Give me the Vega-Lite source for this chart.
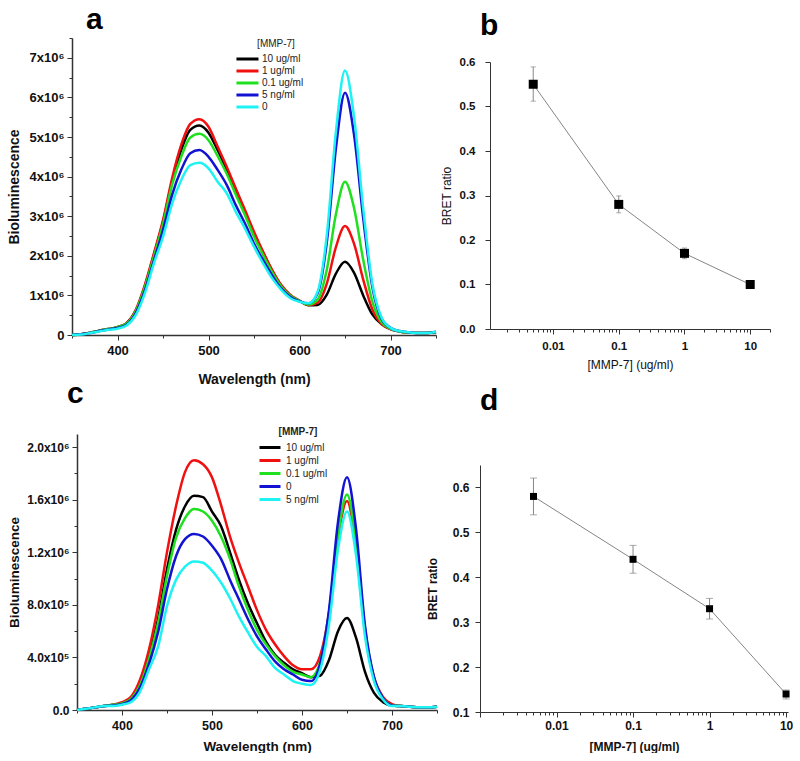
{
"$schema":"https://vega.github.io/schema/vega-lite/v6.json",
"padding":{"left":7,"top":5,"right":0,"bottom":0},
"background":"white",
"config":{"view":{"stroke":null},"font":"Liberation Sans",
 "axis":{"domainColor":"#333","tickColor":"#333","labelColor":"#111","titleColor":"#111","grid":false,"labelFontWeight":"bold","titleFontWeight":"bold","labelOverlap":false},
 "title":{"fontSize":30,"fontWeight":"bold","anchor":"start","frame":"group","color":"#000"}},
"datasets":{
"specA":[
{"s":"10 ug/ml","w":350,"v":0},{"s":"10 ug/ml","w":360,"v":20000},{"s":"10 ug/ml","w":370,"v":60000},{"s":"10 ug/ml","w":380,"v":110000},{"s":"10 ug/ml","w":390,"v":150000},{"s":"10 ug/ml","w":400,"v":200000},{"s":"10 ug/ml","w":410,"v":300000},{"s":"10 ug/ml","w":420,"v":610000},{"s":"10 ug/ml","w":430,"v":1220000},{"s":"10 ug/ml","w":440,"v":2020000},{"s":"10 ug/ml","w":450,"v":2850000},{"s":"10 ug/ml","w":460,"v":3870000},{"s":"10 ug/ml","w":470,"v":4670000},{"s":"10 ug/ml","w":480,"v":5180000},{"s":"10 ug/ml","w":490,"v":5290000},{"s":"10 ug/ml","w":500,"v":5110000},{"s":"10 ug/ml","w":510,"v":4670000},{"s":"10 ug/ml","w":520,"v":4180000},{"s":"10 ug/ml","w":530,"v":3660000},{"s":"10 ug/ml","w":540,"v":3110000},{"s":"10 ug/ml","w":550,"v":2570000},{"s":"10 ug/ml","w":560,"v":2080000},{"s":"10 ug/ml","w":570,"v":1620000},{"s":"10 ug/ml","w":580,"v":1240000},{"s":"10 ug/ml","w":590,"v":1000000},{"s":"10 ug/ml","w":600,"v":860000},{"s":"10 ug/ml","w":610,"v":750000},{"s":"10 ug/ml","w":620,"v":760000},{"s":"10 ug/ml","w":630,"v":1020000},{"s":"10 ug/ml","w":640,"v":1550000},{"s":"10 ug/ml","w":650,"v":1850000},{"s":"10 ug/ml","w":660,"v":1570000},{"s":"10 ug/ml","w":670,"v":1000000},{"s":"10 ug/ml","w":680,"v":520000},{"s":"10 ug/ml","w":690,"v":280000},{"s":"10 ug/ml","w":700,"v":150000},{"s":"10 ug/ml","w":710,"v":90000},{"s":"10 ug/ml","w":720,"v":60000},{"s":"10 ug/ml","w":730,"v":50000},{"s":"10 ug/ml","w":740,"v":50000},{"s":"10 ug/ml","w":750,"v":70000},
{"s":"1 ug/ml","w":350,"v":0},{"s":"1 ug/ml","w":360,"v":20000},{"s":"1 ug/ml","w":370,"v":60000},{"s":"1 ug/ml","w":380,"v":110000},{"s":"1 ug/ml","w":390,"v":150000},{"s":"1 ug/ml","w":400,"v":200000},{"s":"1 ug/ml","w":410,"v":300000},{"s":"1 ug/ml","w":420,"v":630000},{"s":"1 ug/ml","w":430,"v":1260000},{"s":"1 ug/ml","w":440,"v":2060000},{"s":"1 ug/ml","w":450,"v":2900000},{"s":"1 ug/ml","w":460,"v":3960000},{"s":"1 ug/ml","w":470,"v":4800000},{"s":"1 ug/ml","w":480,"v":5330000},{"s":"1 ug/ml","w":490,"v":5450000},{"s":"1 ug/ml","w":500,"v":5260000},{"s":"1 ug/ml","w":510,"v":4760000},{"s":"1 ug/ml","w":520,"v":4250000},{"s":"1 ug/ml","w":530,"v":3700000},{"s":"1 ug/ml","w":540,"v":3160000},{"s":"1 ug/ml","w":550,"v":2610000},{"s":"1 ug/ml","w":560,"v":2100000},{"s":"1 ug/ml","w":570,"v":1640000},{"s":"1 ug/ml","w":580,"v":1260000},{"s":"1 ug/ml","w":590,"v":1010000},{"s":"1 ug/ml","w":600,"v":870000},{"s":"1 ug/ml","w":610,"v":760000},{"s":"1 ug/ml","w":620,"v":820000},{"s":"1 ug/ml","w":630,"v":1300000},{"s":"1 ug/ml","w":640,"v":2220000},{"s":"1 ug/ml","w":650,"v":2750000},{"s":"1 ug/ml","w":660,"v":2300000},{"s":"1 ug/ml","w":670,"v":1400000},{"s":"1 ug/ml","w":680,"v":650000},{"s":"1 ug/ml","w":690,"v":280000},{"s":"1 ug/ml","w":700,"v":150000},{"s":"1 ug/ml","w":710,"v":90000},{"s":"1 ug/ml","w":720,"v":60000},{"s":"1 ug/ml","w":730,"v":50000},{"s":"1 ug/ml","w":740,"v":50000},{"s":"1 ug/ml","w":750,"v":70000},
{"s":"0.1 ug/ml","w":350,"v":0},{"s":"0.1 ug/ml","w":360,"v":20000},{"s":"0.1 ug/ml","w":370,"v":60000},{"s":"0.1 ug/ml","w":380,"v":110000},{"s":"0.1 ug/ml","w":390,"v":150000},{"s":"0.1 ug/ml","w":400,"v":200000},{"s":"0.1 ug/ml","w":410,"v":290000},{"s":"0.1 ug/ml","w":420,"v":600000},{"s":"0.1 ug/ml","w":430,"v":1200000},{"s":"0.1 ug/ml","w":440,"v":1980000},{"s":"0.1 ug/ml","w":450,"v":2800000},{"s":"0.1 ug/ml","w":460,"v":3790000},{"s":"0.1 ug/ml","w":470,"v":4500000},{"s":"0.1 ug/ml","w":480,"v":4990000},{"s":"0.1 ug/ml","w":490,"v":5080000},{"s":"0.1 ug/ml","w":500,"v":4920000},{"s":"0.1 ug/ml","w":510,"v":4520000},{"s":"0.1 ug/ml","w":520,"v":4070000},{"s":"0.1 ug/ml","w":530,"v":3540000},{"s":"0.1 ug/ml","w":540,"v":3030000},{"s":"0.1 ug/ml","w":550,"v":2480000},{"s":"0.1 ug/ml","w":560,"v":2020000},{"s":"0.1 ug/ml","w":570,"v":1580000},{"s":"0.1 ug/ml","w":580,"v":1220000},{"s":"0.1 ug/ml","w":590,"v":990000},{"s":"0.1 ug/ml","w":600,"v":860000},{"s":"0.1 ug/ml","w":610,"v":770000},{"s":"0.1 ug/ml","w":620,"v":900000},{"s":"0.1 ug/ml","w":630,"v":1650000},{"s":"0.1 ug/ml","w":640,"v":3050000},{"s":"0.1 ug/ml","w":650,"v":3870000},{"s":"0.1 ug/ml","w":660,"v":3200000},{"s":"0.1 ug/ml","w":670,"v":1900000},{"s":"0.1 ug/ml","w":680,"v":850000},{"s":"0.1 ug/ml","w":690,"v":330000},{"s":"0.1 ug/ml","w":700,"v":160000},{"s":"0.1 ug/ml","w":710,"v":90000},{"s":"0.1 ug/ml","w":720,"v":60000},{"s":"0.1 ug/ml","w":730,"v":50000},{"s":"0.1 ug/ml","w":740,"v":50000},{"s":"0.1 ug/ml","w":750,"v":70000},
{"s":"5 ng/ml","w":350,"v":0},{"s":"5 ng/ml","w":360,"v":20000},{"s":"5 ng/ml","w":370,"v":50000},{"s":"5 ng/ml","w":380,"v":100000},{"s":"5 ng/ml","w":390,"v":140000},{"s":"5 ng/ml","w":400,"v":180000},{"s":"5 ng/ml","w":410,"v":260000},{"s":"5 ng/ml","w":420,"v":550000},{"s":"5 ng/ml","w":430,"v":1120000},{"s":"5 ng/ml","w":440,"v":1880000},{"s":"5 ng/ml","w":450,"v":2650000},{"s":"5 ng/ml","w":460,"v":3540000},{"s":"5 ng/ml","w":470,"v":4170000},{"s":"5 ng/ml","w":480,"v":4590000},{"s":"5 ng/ml","w":490,"v":4670000},{"s":"5 ng/ml","w":500,"v":4500000},{"s":"5 ng/ml","w":510,"v":4170000},{"s":"5 ng/ml","w":520,"v":3790000},{"s":"5 ng/ml","w":530,"v":3280000},{"s":"5 ng/ml","w":540,"v":2820000},{"s":"5 ng/ml","w":550,"v":2310000},{"s":"5 ng/ml","w":560,"v":1890000},{"s":"5 ng/ml","w":570,"v":1500000},{"s":"5 ng/ml","w":580,"v":1170000},{"s":"5 ng/ml","w":590,"v":960000},{"s":"5 ng/ml","w":600,"v":850000},{"s":"5 ng/ml","w":610,"v":800000},{"s":"5 ng/ml","w":620,"v":1060000},{"s":"5 ng/ml","w":630,"v":2340000},{"s":"5 ng/ml","w":640,"v":4710000},{"s":"5 ng/ml","w":650,"v":6120000},{"s":"5 ng/ml","w":660,"v":5050000},{"s":"5 ng/ml","w":670,"v":2950000},{"s":"5 ng/ml","w":680,"v":1220000},{"s":"5 ng/ml","w":690,"v":420000},{"s":"5 ng/ml","w":700,"v":180000},{"s":"5 ng/ml","w":710,"v":100000},{"s":"5 ng/ml","w":720,"v":70000},{"s":"5 ng/ml","w":730,"v":50000},{"s":"5 ng/ml","w":740,"v":50000},{"s":"5 ng/ml","w":750,"v":80000},
{"s":"0","w":350,"v":0},{"s":"0","w":360,"v":10000},{"s":"0","w":370,"v":50000},{"s":"0","w":380,"v":90000},{"s":"0","w":390,"v":130000},{"s":"0","w":400,"v":160000},{"s":"0","w":410,"v":240000},{"s":"0","w":420,"v":500000},{"s":"0","w":430,"v":1050000},{"s":"0","w":440,"v":1810000},{"s":"0","w":450,"v":2480000},{"s":"0","w":460,"v":3320000},{"s":"0","w":470,"v":3910000},{"s":"0","w":480,"v":4290000},{"s":"0","w":490,"v":4350000},{"s":"0","w":500,"v":4210000},{"s":"0","w":510,"v":3870000},{"s":"0","w":520,"v":3580000},{"s":"0","w":530,"v":3110000},{"s":"0","w":540,"v":2690000},{"s":"0","w":550,"v":2230000},{"s":"0","w":560,"v":1810000},{"s":"0","w":570,"v":1430000},{"s":"0","w":580,"v":1140000},{"s":"0","w":590,"v":930000},{"s":"0","w":600,"v":840000},{"s":"0","w":610,"v":800000},{"s":"0","w":620,"v":1100000},{"s":"0","w":630,"v":2520000},{"s":"0","w":640,"v":5130000},{"s":"0","w":650,"v":6680000},{"s":"0","w":660,"v":5500000},{"s":"0","w":670,"v":3200000},{"s":"0","w":680,"v":1300000},{"s":"0","w":690,"v":450000},{"s":"0","w":700,"v":180000},{"s":"0","w":710,"v":100000},{"s":"0","w":720,"v":70000},{"s":"0","w":730,"v":50000},{"s":"0","w":740,"v":50000},{"s":"0","w":750,"v":80000}
],
"specC":[
{"s":"10 ug/ml","w":350,"v":0},{"s":"10 ug/ml","w":360,"v":10000},{"s":"10 ug/ml","w":370,"v":20000},{"s":"10 ug/ml","w":380,"v":30000},{"s":"10 ug/ml","w":390,"v":40000},{"s":"10 ug/ml","w":400,"v":50000},{"s":"10 ug/ml","w":410,"v":90000},{"s":"10 ug/ml","w":420,"v":200000},{"s":"10 ug/ml","w":430,"v":410000},{"s":"10 ug/ml","w":440,"v":690000},{"s":"10 ug/ml","w":450,"v":1070000},{"s":"10 ug/ml","w":460,"v":1370000},{"s":"10 ug/ml","w":470,"v":1550000},{"s":"10 ug/ml","w":480,"v":1630000},{"s":"10 ug/ml","w":490,"v":1620000},{"s":"10 ug/ml","w":500,"v":1510000},{"s":"10 ug/ml","w":510,"v":1400000},{"s":"10 ug/ml","w":520,"v":1200000},{"s":"10 ug/ml","w":530,"v":990000},{"s":"10 ug/ml","w":540,"v":810000},{"s":"10 ug/ml","w":550,"v":660000},{"s":"10 ug/ml","w":560,"v":520000},{"s":"10 ug/ml","w":570,"v":420000},{"s":"10 ug/ml","w":580,"v":360000},{"s":"10 ug/ml","w":590,"v":310000},{"s":"10 ug/ml","w":600,"v":280000},{"s":"10 ug/ml","w":610,"v":250000},{"s":"10 ug/ml","w":620,"v":260000},{"s":"10 ug/ml","w":630,"v":380000},{"s":"10 ug/ml","w":640,"v":600000},{"s":"10 ug/ml","w":650,"v":700000},{"s":"10 ug/ml","w":660,"v":550000},{"s":"10 ug/ml","w":670,"v":290000},{"s":"10 ug/ml","w":680,"v":130000},{"s":"10 ug/ml","w":690,"v":60000},{"s":"10 ug/ml","w":700,"v":34000},{"s":"10 ug/ml","w":710,"v":30000},{"s":"10 ug/ml","w":720,"v":25000},{"s":"10 ug/ml","w":730,"v":20000},{"s":"10 ug/ml","w":740,"v":20000},{"s":"10 ug/ml","w":750,"v":25000},
{"s":"1 ug/ml","w":350,"v":0},{"s":"1 ug/ml","w":360,"v":10000},{"s":"1 ug/ml","w":370,"v":20000},{"s":"1 ug/ml","w":380,"v":30000},{"s":"1 ug/ml","w":390,"v":40000},{"s":"1 ug/ml","w":400,"v":60000},{"s":"1 ug/ml","w":410,"v":100000},{"s":"1 ug/ml","w":420,"v":230000},{"s":"1 ug/ml","w":430,"v":460000},{"s":"1 ug/ml","w":440,"v":790000},{"s":"1 ug/ml","w":450,"v":1200000},{"s":"1 ug/ml","w":460,"v":1550000},{"s":"1 ug/ml","w":470,"v":1810000},{"s":"1 ug/ml","w":480,"v":1900000},{"s":"1 ug/ml","w":490,"v":1870000},{"s":"1 ug/ml","w":500,"v":1770000},{"s":"1 ug/ml","w":510,"v":1560000},{"s":"1 ug/ml","w":520,"v":1320000},{"s":"1 ug/ml","w":530,"v":1120000},{"s":"1 ug/ml","w":540,"v":940000},{"s":"1 ug/ml","w":550,"v":760000},{"s":"1 ug/ml","w":560,"v":610000},{"s":"1 ug/ml","w":570,"v":500000},{"s":"1 ug/ml","w":580,"v":410000},{"s":"1 ug/ml","w":590,"v":340000},{"s":"1 ug/ml","w":600,"v":310000},{"s":"1 ug/ml","w":610,"v":310000},{"s":"1 ug/ml","w":620,"v":410000},{"s":"1 ug/ml","w":630,"v":740000},{"s":"1 ug/ml","w":640,"v":1310000},{"s":"1 ug/ml","w":650,"v":1590000},{"s":"1 ug/ml","w":660,"v":1240000},{"s":"1 ug/ml","w":670,"v":600000},{"s":"1 ug/ml","w":680,"v":250000},{"s":"1 ug/ml","w":690,"v":100000},{"s":"1 ug/ml","w":700,"v":45000},{"s":"1 ug/ml","w":710,"v":30000},{"s":"1 ug/ml","w":720,"v":25000},{"s":"1 ug/ml","w":730,"v":20000},{"s":"1 ug/ml","w":740,"v":20000},{"s":"1 ug/ml","w":750,"v":25000},
{"s":"0.1 ug/ml","w":350,"v":0},{"s":"0.1 ug/ml","w":360,"v":10000},{"s":"0.1 ug/ml","w":370,"v":20000},{"s":"0.1 ug/ml","w":380,"v":30000},{"s":"0.1 ug/ml","w":390,"v":40000},{"s":"0.1 ug/ml","w":400,"v":50000},{"s":"0.1 ug/ml","w":410,"v":85000},{"s":"0.1 ug/ml","w":420,"v":190000},{"s":"0.1 ug/ml","w":430,"v":390000},{"s":"0.1 ug/ml","w":440,"v":660000},{"s":"0.1 ug/ml","w":450,"v":1020000},{"s":"0.1 ug/ml","w":460,"v":1310000},{"s":"0.1 ug/ml","w":470,"v":1460000},{"s":"0.1 ug/ml","w":480,"v":1530000},{"s":"0.1 ug/ml","w":490,"v":1510000},{"s":"0.1 ug/ml","w":500,"v":1440000},{"s":"0.1 ug/ml","w":510,"v":1320000},{"s":"0.1 ug/ml","w":520,"v":1150000},{"s":"0.1 ug/ml","w":530,"v":940000},{"s":"0.1 ug/ml","w":540,"v":760000},{"s":"0.1 ug/ml","w":550,"v":610000},{"s":"0.1 ug/ml","w":560,"v":500000},{"s":"0.1 ug/ml","w":570,"v":410000},{"s":"0.1 ug/ml","w":580,"v":340000},{"s":"0.1 ug/ml","w":590,"v":290000},{"s":"0.1 ug/ml","w":600,"v":270000},{"s":"0.1 ug/ml","w":610,"v":250000},{"s":"0.1 ug/ml","w":620,"v":360000},{"s":"0.1 ug/ml","w":630,"v":730000},{"s":"0.1 ug/ml","w":640,"v":1330000},{"s":"0.1 ug/ml","w":650,"v":1640000},{"s":"0.1 ug/ml","w":660,"v":1280000},{"s":"0.1 ug/ml","w":670,"v":620000},{"s":"0.1 ug/ml","w":680,"v":240000},{"s":"0.1 ug/ml","w":690,"v":90000},{"s":"0.1 ug/ml","w":700,"v":35000},{"s":"0.1 ug/ml","w":710,"v":30000},{"s":"0.1 ug/ml","w":720,"v":25000},{"s":"0.1 ug/ml","w":730,"v":20000},{"s":"0.1 ug/ml","w":740,"v":20000},{"s":"0.1 ug/ml","w":750,"v":25000},
{"s":"0","w":350,"v":0},{"s":"0","w":360,"v":10000},{"s":"0","w":370,"v":20000},{"s":"0","w":380,"v":30000},{"s":"0","w":390,"v":35000},{"s":"0","w":400,"v":45000},{"s":"0","w":410,"v":75000},{"s":"0","w":420,"v":170000},{"s":"0","w":430,"v":350000},{"s":"0","w":440,"v":590000},{"s":"0","w":450,"v":920000},{"s":"0","w":460,"v":1170000},{"s":"0","w":470,"v":1300000},{"s":"0","w":480,"v":1340000},{"s":"0","w":490,"v":1320000},{"s":"0","w":500,"v":1250000},{"s":"0","w":510,"v":1150000},{"s":"0","w":520,"v":990000},{"s":"0","w":530,"v":840000},{"s":"0","w":540,"v":690000},{"s":"0","w":550,"v":560000},{"s":"0","w":560,"v":460000},{"s":"0","w":570,"v":370000},{"s":"0","w":580,"v":310000},{"s":"0","w":590,"v":270000},{"s":"0","w":600,"v":230000},{"s":"0","w":610,"v":220000},{"s":"0","w":620,"v":350000},{"s":"0","w":630,"v":760000},{"s":"0","w":640,"v":1430000},{"s":"0","w":650,"v":1770000},{"s":"0","w":660,"v":1380000},{"s":"0","w":670,"v":640000},{"s":"0","w":680,"v":250000},{"s":"0","w":690,"v":90000},{"s":"0","w":700,"v":35000},{"s":"0","w":710,"v":30000},{"s":"0","w":720,"v":25000},{"s":"0","w":730,"v":20000},{"s":"0","w":740,"v":20000},{"s":"0","w":750,"v":25000},
{"s":"5 ng/ml","w":350,"v":0},{"s":"5 ng/ml","w":360,"v":10000},{"s":"5 ng/ml","w":370,"v":20000},{"s":"5 ng/ml","w":380,"v":30000},{"s":"5 ng/ml","w":390,"v":30000},{"s":"5 ng/ml","w":400,"v":40000},{"s":"5 ng/ml","w":410,"v":60000},{"s":"5 ng/ml","w":420,"v":140000},{"s":"5 ng/ml","w":430,"v":310000},{"s":"5 ng/ml","w":440,"v":480000},{"s":"5 ng/ml","w":450,"v":790000},{"s":"5 ng/ml","w":460,"v":990000},{"s":"5 ng/ml","w":470,"v":1090000},{"s":"5 ng/ml","w":480,"v":1130000},{"s":"5 ng/ml","w":490,"v":1120000},{"s":"5 ng/ml","w":500,"v":1060000},{"s":"5 ng/ml","w":510,"v":970000},{"s":"5 ng/ml","w":520,"v":850000},{"s":"5 ng/ml","w":530,"v":710000},{"s":"5 ng/ml","w":540,"v":590000},{"s":"5 ng/ml","w":550,"v":480000},{"s":"5 ng/ml","w":560,"v":410000},{"s":"5 ng/ml","w":570,"v":320000},{"s":"5 ng/ml","w":580,"v":270000},{"s":"5 ng/ml","w":590,"v":220000},{"s":"5 ng/ml","w":600,"v":200000},{"s":"5 ng/ml","w":610,"v":190000},{"s":"5 ng/ml","w":620,"v":300000},{"s":"5 ng/ml","w":630,"v":650000},{"s":"5 ng/ml","w":640,"v":1220000},{"s":"5 ng/ml","w":650,"v":1510000},{"s":"5 ng/ml","w":660,"v":1180000},{"s":"5 ng/ml","w":670,"v":560000},{"s":"5 ng/ml","w":680,"v":220000},{"s":"5 ng/ml","w":690,"v":80000},{"s":"5 ng/ml","w":700,"v":30000},{"s":"5 ng/ml","w":710,"v":30000},{"s":"5 ng/ml","w":720,"v":25000},{"s":"5 ng/ml","w":730,"v":20000},{"s":"5 ng/ml","w":740,"v":20000},{"s":"5 ng/ml","w":750,"v":25000}
],
"bretB":[
{"c":0.005,"r":0.55,"lo":0.512,"hi":0.589},
{"c":0.1,"r":0.28,"lo":0.261,"hi":0.299},
{"c":1,"r":0.17,"lo":0.158,"hi":0.182},
{"c":10,"r":0.10,"lo":0.095,"hi":0.105}
],
"bretD":[
{"c":0.005,"r":0.58,"lo":0.539,"hi":0.621},
{"c":0.1,"r":0.44,"lo":0.409,"hi":0.471},
{"c":1,"r":0.33,"lo":0.307,"hi":0.353},
{"c":10,"r":0.14,"lo":0.129,"hi":0.149}
]
},
"resolve":{"scale":{"color":"independent"},"legend":{"color":"independent"}},
"columns":2,
"spacing":{"column":-16,"row":-7},
"concat":[
 {"title":{"text":"a","dx":14,"offset":-3},
  "width":364,"height":297,
  "data":{"name":"specA"},
  "mark":{"type":"line","strokeWidth":2.5,"interpolate":"monotone"},
  "encoding":{
   "x":{"field":"w","type":"quantitative","scale":{"domain":[350,750],"nice":false,"zero":false},
    "axis":{"title":"Wavelength (nm)","values":[350,400,450,500,550,600,650,700,750],"labelExpr":"datum.value % 100 == 0 ? format(datum.value,'d') : ''","labelFontSize":13,"titleFontSize":14,"tickSize":{"condition":{"test":"datum.value % 100 != 0","value":3},"value":5},"labelPadding":4,"titlePadding":15,"domainWidth":1.5,"labelFlush":false}},
   "y":{"field":"v","type":"quantitative","scale":{"domain":[0,7500000],"nice":false},
    "axis":{"title":"Bioluminescence","values":[0,500000,1000000,1500000,2000000,2500000,3000000,3500000,4000000,4500000,5000000,5500000,6000000,6500000,7000000,7500000],"labelExpr":"datum.value == 0 ? '0' : (datum.value % 1000000 == 0 ? format(datum.value/1000000,'d') + 'x10⁶' : '')","labelFontSize":13,"titleFontSize":14,"tickSize":{"condition":{"test":"datum.value % 1000000 != 0","value":3},"value":5},"labelPadding":3,"titlePadding":8,"domainWidth":1.5}},
   "color":{"field":"s","type":"nominal","scale":{"domain":["10 ug/ml","1 ug/ml","0.1 ug/ml","5 ng/ml","0"],"range":["#000000","#f01010","#1ee01e","#1212d2","#1ef2f2"]},
    "legend":{"orient":"none","legendX":176,"legendY":1,"title":"[MMP-7]","titleFontWeight":"normal","titleFontSize":10,"titleColor":"#222","labelFontSize":10,"labelColor":"#222","symbolType":"M-3.9,0H1","symbolStrokeWidth":3,"symbolSize":81,"rowPadding":0,"titleAnchor":"middle","titlePadding":4,"labelOffset":2,"padding":0}}
  }},
 {"title":{"text":"b","dx":0,"offset":-3},
  "width":290,"height":291,
  "data":{"name":"bretB"},
  "encoding":{"x":{"field":"c","type":"quantitative","scale":{"type":"log","domain":[0.0011,20],"nice":false,"range":[10,290]},
    "axis":{"title":"[MMP-7] (ug/ml)","titleFontWeight":"normal","titleFontSize":12,"labelFontSize":11.5,"values":[0.002,0.003,0.004,0.005,0.006,0.007,0.008,0.009,0.01,0.02,0.03,0.04,0.05,0.06,0.07,0.08,0.09,0.1,0.2,0.3,0.4,0.5,0.6,0.7,0.8,0.9,1,2,3,4,5,6,7,8,9,10,20],"labelExpr":"abs(log(datum.value)/LN10 - round(log(datum.value)/LN10)) < 0.000001 ? format(datum.value,'~g') : ''","tickSize":{"condition":{"test":"abs(log(datum.value)/LN10 - round(log(datum.value)/LN10)) > 0.000001","value":3},"value":5},"labelPadding":6,"titlePadding":8,"labelFlush":false}}},
  "layer":[
   {"mark":{"type":"line","color":"#666","strokeWidth":0.8},
    "encoding":{"y":{"field":"r","type":"quantitative","scale":{"domain":[0,0.6],"nice":false,"range":[291,24]},
     "axis":{"title":"BRET ratio","titleFontWeight":"normal","titleFontSize":12,"labelFontSize":11.5,"values":[0,0.05,0.1,0.15,0.2,0.25,0.3,0.35,0.4,0.45,0.5,0.55,0.6],"labelExpr":"abs(datum.value*10 - round(datum.value*10)) < 0.001 ? format(datum.value,'.1f') : ''","tickSize":{"condition":{"test":"abs(datum.value*10 - round(datum.value*10)) > 0.001","value":3},"value":5},"labelPadding":10,"titlePadding":6,"offset":-10}}}},
   {"mark":{"type":"errorbar","color":"#888","thickness":1,"ticks":{"size":5,"color":"#888"}},
    "encoding":{"y":{"field":"lo","type":"quantitative","title":"BRET ratio"},"y2":{"field":"hi"}}},
   {"mark":{"type":"point","shape":"square","filled":true,"color":"#000","size":81,"opacity":1},
    "encoding":{"y":{"field":"r","type":"quantitative","title":"BRET ratio"}}}
  ]},
 {"title":{"text":"c","dx":-5,"offset":18},
  "width":365,"height":276,
  "data":{"name":"specC"},
  "mark":{"type":"line","strokeWidth":2.5,"interpolate":"monotone"},
  "encoding":{
   "x":{"field":"w","type":"quantitative","scale":{"domain":[350,750],"nice":false,"zero":false,"range":[5,365]},
    "axis":{"title":"Wavelength (nm)","values":[350,400,450,500,550,600,650,700,750],"labelExpr":"datum.value % 100 == 0 ? format(datum.value,'d') : ''","labelFontSize":12.5,"titleFontSize":13.5,"tickSize":{"condition":{"test":"datum.value % 100 != 0","value":3},"value":5},"labelPadding":4,"titlePadding":8,"domainWidth":1.5,"labelFlush":false}},
   "y":{"field":"v","type":"quantitative","scale":{"domain":[0,2100000],"nice":false},
    "axis":{"title":"Bioluminescence","values":[0,200000,400000,600000,800000,1000000,1200000,1400000,1600000,1800000,2000000],"labelExpr":"datum.value == 0 ? '0.0' : (datum.value % 400000 != 0 ? '' : (datum.value >= 1000000 ? format(datum.value/1000000,'.1f') + 'x10⁶' : format(datum.value/100000,'.1f') + 'x10⁵'))","labelFontSize":12,"titleFontSize":13.5,"tickSize":{"condition":{"test":"datum.value % 400000 != 0","value":3},"value":5},"labelPadding":3,"titlePadding":5,"domainWidth":1.5,"offset":-5}},
   "color":{"field":"s","type":"nominal","scale":{"domain":["10 ug/ml","1 ug/ml","0.1 ug/ml","0","5 ng/ml"],"range":["#000000","#f01010","#1ee01e","#1212d2","#1ef2f2"]},
    "legend":{"orient":"none","legendX":197,"legendY":-7,"title":"[MMP-7]","titleFontWeight":"bold","titleFontSize":10,"titleColor":"#222","labelFontSize":10,"labelColor":"#222","symbolType":"M-3.2,0H1","symbolStrokeWidth":3,"symbolSize":100,"rowPadding":0,"titleAnchor":"middle","titlePadding":4,"labelOffset":4,"padding":0}}
  }},
 {"title":{"text":"d","dx":0,"offset":18},
  "width":308,"height":278,
  "data":{"name":"bretD"},
  "encoding":{"x":{"field":"c","type":"quantitative","scale":{"type":"log","domain":[0.001,10.6],"nice":false},
    "axis":{"title":"[MMP-7] (ug/ml)","titleFontSize":12,"labelFontSize":12,"values":[0.001,0.002,0.003,0.004,0.005,0.006,0.007,0.008,0.009,0.01,0.02,0.03,0.04,0.05,0.06,0.07,0.08,0.09,0.1,0.2,0.3,0.4,0.5,0.6,0.7,0.8,0.9,1,2,3,4,5,6,7,8,9,10],"labelExpr":"abs(log(datum.value)/LN10 - round(log(datum.value)/LN10)) < 0.000001 && datum.value > 0.005 ? format(datum.value,'~g') : ''","tickSize":{"condition":{"test":"abs(log(datum.value)/LN10 - round(log(datum.value)/LN10)) > 0.000001","value":3},"value":5},"labelPadding":3,"titlePadding":10,"labelFlush":false}}},
  "layer":[
   {"mark":{"type":"line","color":"#666","strokeWidth":0.8},
    "encoding":{"y":{"field":"r","type":"quantitative","scale":{"domain":[0.1,0.65],"nice":false,"zero":false,"range":[278,31]},
     "axis":{"title":"BRET ratio","titleFontSize":12,"labelFontSize":12,"values":[0.1,0.15,0.2,0.25,0.3,0.35,0.4,0.45,0.5,0.55,0.6,0.65],"labelExpr":"abs(datum.value*10 - round(datum.value*10)) < 0.001 ? format(datum.value,'.1f') : ''","tickSize":{"condition":{"test":"abs(datum.value*10 - round(datum.value*10)) > 0.001","value":3},"value":5},"labelPadding":6,"titlePadding":13}}}},
   {"mark":{"type":"errorbar","color":"#888","thickness":1,"ticks":{"size":7,"color":"#888"}},
    "encoding":{"y":{"field":"lo","type":"quantitative","title":"BRET ratio"},"y2":{"field":"hi"}}},
   {"mark":{"type":"point","shape":"square","filled":true,"color":"#000","size":49,"opacity":1,"clip":false},
    "encoding":{"y":{"field":"r","type":"quantitative","title":"BRET ratio"}}}
  ]}
]
}
